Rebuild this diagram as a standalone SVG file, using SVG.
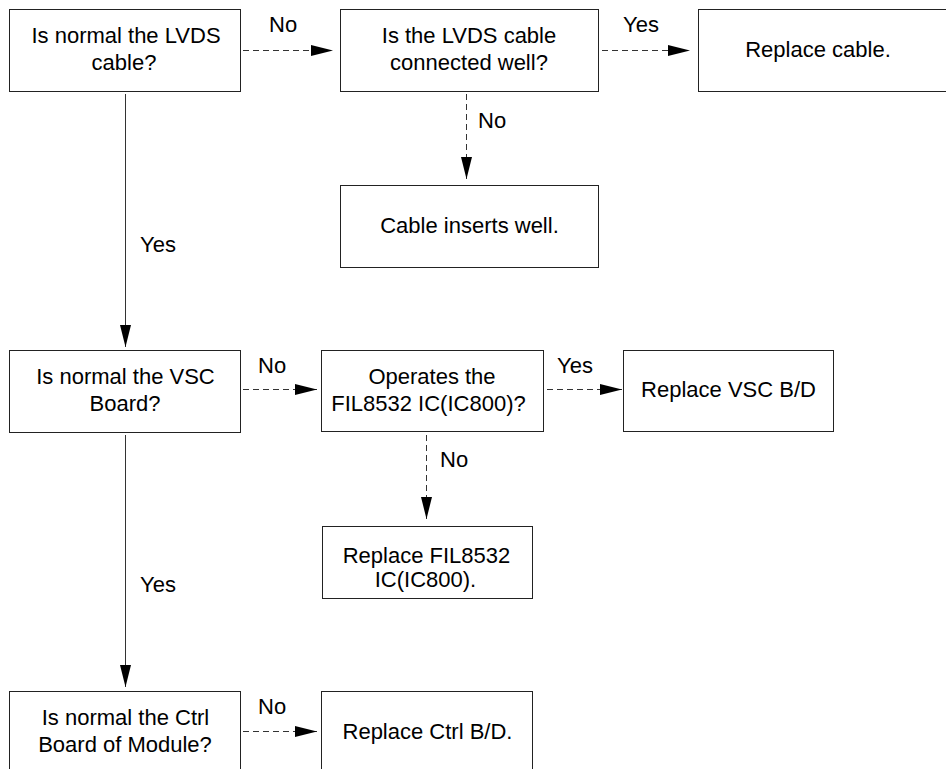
<svg xmlns="http://www.w3.org/2000/svg" width="946" height="769" viewBox="0 0 946 769">
<style>
.box{fill:#fff;stroke:#222;stroke-width:1}
.t{font-family:"Liberation Sans",Arial,sans-serif;font-size:22px;fill:#000;text-anchor:middle}
.l{font-family:"Liberation Sans",Arial,sans-serif;font-size:22px;fill:#000}
.solid{stroke:#333;stroke-width:1;fill:none}
.dash{stroke:#333;stroke-width:1;fill:none;stroke-dasharray:6,4}
</style>
<defs>
<marker id="ah" markerUnits="userSpaceOnUse" markerWidth="22" markerHeight="11" refX="22" refY="5.5" orient="auto">
<path d="M0,0 L22,5.5 L0,11 z" fill="#000"/>
</marker>
</defs>
<rect width="946" height="769" fill="#fff"/>
<g id="connectors">
<line class="dash" x1="243" y1="50.5" x2="333" y2="50.5" marker-end="url(#ah)"/>
<line class="dash" x1="602" y1="50.5" x2="690" y2="50.5" marker-end="url(#ah)"/>
<line class="dash" x1="466.5" y1="94" x2="466.5" y2="179" marker-end="url(#ah)"/>
<line class="solid" x1="125.5" y1="94" x2="125.5" y2="347" marker-end="url(#ah)"/>
<line class="dash" x1="243" y1="389.5" x2="317" y2="389.5" marker-end="url(#ah)"/>
<line class="dash" x1="547" y1="389.5" x2="622" y2="389.5" marker-end="url(#ah)"/>
<line class="dash" x1="426.5" y1="435" x2="426.5" y2="519" marker-end="url(#ah)"/>
<line class="solid" x1="125.5" y1="435" x2="125.5" y2="687" marker-end="url(#ah)"/>
<line class="dash" x1="243" y1="731.5" x2="317" y2="731.5" marker-end="url(#ah)"/>
<text class="l" x="269" y="32">No</text>
<text class="l" x="623" y="32">Yes</text>
<text class="l" x="478" y="128">No</text>
<text class="l" x="140" y="252">Yes</text>
<text class="l" x="258" y="373">No</text>
<text class="l" x="557" y="373">Yes</text>
<text class="l" x="440" y="467">No</text>
<text class="l" x="140" y="592">Yes</text>
<text class="l" x="258" y="714">No</text>
</g>
<g id="n1">
<rect class="box" x="9.5" y="9.5" width="231" height="82"/>
<text class="t" x="126" y="43">Is normal the LVDS</text>
<text class="t" x="124" y="70">cable?</text>
</g>
<g id="n2">
<rect class="box" x="340.5" y="9.5" width="258" height="82"/>
<text class="t" x="469" y="43">Is the LVDS cable</text>
<text class="t" x="469" y="70">connected well?</text>
</g>
<g id="n3">
<rect class="box" x="698.5" y="9.5" width="270" height="82"/>
<text class="t" x="818" y="57">Replace cable.</text>
</g>
<g id="n4">
<rect class="box" x="340.5" y="185.5" width="258" height="82"/>
<text class="t" x="469.5" y="233">Cable inserts well.</text>
</g>
<g id="n5">
<rect class="box" x="9.5" y="350.5" width="231" height="82"/>
<text class="t" x="125.5" y="384">Is normal the VSC</text>
<text class="t" x="125" y="411">Board?</text>
</g>
<g id="n6">
<rect class="box" x="321.5" y="350.5" width="222" height="81"/>
<text class="t" x="432" y="384">Operates the</text>
<text class="t" x="428.5" y="411">FIL8532 IC(IC800)?</text>
</g>
<g id="n7">
<rect class="box" x="623.5" y="350.5" width="210" height="81"/>
<text class="t" x="728.5" y="397">Replace VSC B/D</text>
</g>
<g id="n8">
<rect class="box" x="322.5" y="526.5" width="210" height="72"/>
<text class="t" x="426.5" y="563">Replace FIL8532</text>
<text class="t" x="425.5" y="587">IC(IC800).</text>
</g>
<g id="n9">
<rect class="box" x="9.5" y="691.5" width="231" height="82"/>
<text class="t" x="125.5" y="725">Is normal the Ctrl</text>
<text class="t" x="125" y="752">Board of Module?</text>
</g>
<g id="n10">
<rect class="box" x="321.5" y="691.5" width="211" height="82"/>
<text class="t" x="427.5" y="739">Replace Ctrl B/D.</text>
</g>
</svg>
